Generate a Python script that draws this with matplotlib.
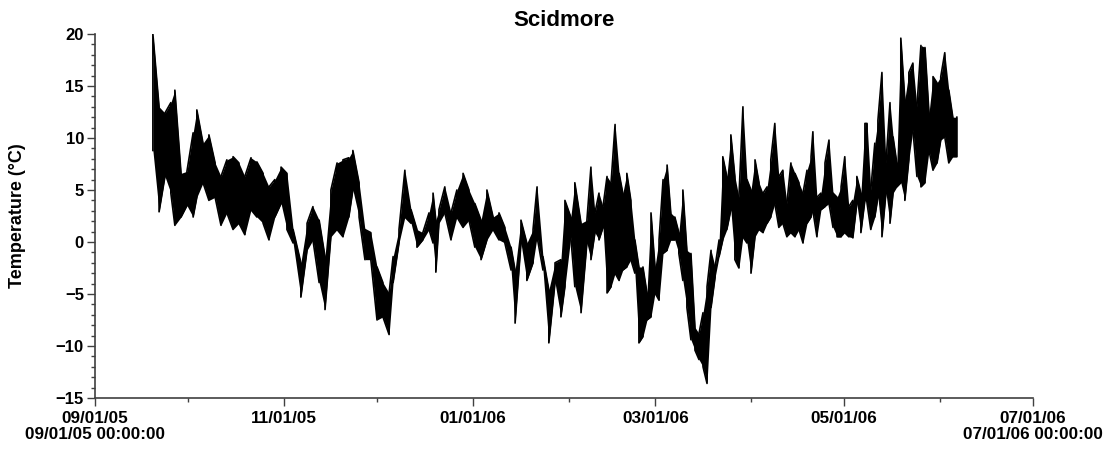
import datetime as dt
import matplotlib
matplotlib.use('Agg')
import matplotlib.pyplot as plt
import matplotlib.dates as mdates
from matplotlib.ticker import MultipleLocator

#-----------------------------------------------------------------------------#
# data: days since 09/01/05, daily-ish low / high envelope (deg C)

start = dt.datetime(2005, 9, 1)

days = [18.7, 20.7, 22.6, 24.5, 25.8, 27.8, 29.7, 31.7, 32.9, 34.9,
        36.8, 38.8, 40.7, 42.6, 44.6, 46.5, 48.4, 50.4, 52.3, 54.3,
        56.2, 58.1, 60.1, 62.0, 64.0, 66.5, 68.5, 70.4, 72.4, 74.3,
        76.2, 78.2, 80.1, 82.0, 83.3, 85.3, 87.2, 89.1, 91.1, 93.0,
        95.0, 96.3, 98.2, 100.1, 102.1, 104.0, 105.9, 107.9, 109.2, 110.1,
        111.1, 113.0, 115.0, 116.9, 118.9, 120.8, 122.7, 124.7, 126.6, 128.6,
        130.5, 132.4, 134.4, 135.7, 137.6, 139.5, 141.5, 142.8, 144.7, 146.6,
        148.6, 150.5, 151.8, 153.7, 155.0, 157.0, 158.9, 160.2, 161.5, 162.8,
        164.1, 165.4, 166.7, 168.0, 169.3, 170.5, 171.8, 173.1, 174.4, 175.7,
        177.0, 178.3, 179.6, 180.9, 182.2, 183.5, 184.8, 186.0, 187.3, 188.6,
        189.9, 191.2, 192.5, 193.8, 195.1, 196.4, 197.7, 199.0, 200.3, 201.6,
        202.8, 204.1, 205.4, 206.7, 208.0, 209.3, 210.6, 211.9, 213.2, 214.5,
        215.8, 217.1, 218.3, 219.6, 220.9, 222.2, 223.5, 224.8, 226.1, 227.4,
        228.7, 230.0, 231.3, 231.9, 233.2, 234.5, 235.8, 237.1, 238.4, 239.7,
        241.0, 242.2, 243.5, 244.8, 246.1, 247.4, 248.7, 249.4, 250.6, 251.9,
        252.9, 254.2, 255.5, 256.8, 257.8, 259.0, 260.3, 261.6, 262.9, 264.2,
        265.5, 266.8, 268.1, 269.4, 270.7, 272.0, 273.2, 274.5, 275.8, 277.1,
        278.4]

lows = [8.8, 2.9, 6.3, 4.7, 1.6, 2.4, 3.5, 2.4, 4.3, 5.7,
        4.0, 4.3, 1.6, 2.8, 1.2, 1.8, 0.7, 3.1, 2.4, 1.8,
        0.2, 2.4, 3.7, 1.2, -0.1, -5.3, -0.8, 0.2, -3.9, -6.5,
        0.5, 1.2, 0.5, 2.4, 5.0, 2.4, -1.7, -1.7, -7.5, -7.2,
        -8.9, -3.9, -0.1, 2.4, 1.8, -0.5, 0.2, 1.2, -0.1, -2.9,
        1.8, 2.8, 0.2, 2.4, 1.4, 2.1, -0.5, -1.7, 0.2, 1.2,
        0.2, -0.1, -2.7, -7.8, -0.1, -3.7, -2.0, 0.5, -2.7, -9.7,
        -3.9, -7.2, -4.3, 0.5, -4.3, -6.8, -0.1, -1.7, 0.9, 0.2,
        1.4, -4.9, -4.3, -3.0, -3.7, -2.7, -2.4, -1.7, -3.0, -9.7,
        -9.1, -7.5, -7.2, -4.9, -5.6, -1.1, -0.8, 0.2, 0.2, -1.1,
        -3.7, -6.3, -9.4, -10.4, -11.3, -12.0, -13.6, -6.3, -3.4, -1.4,
        0.2, 1.2, 3.1, -1.7, -2.5, 0.5, -0.1, -3.0, 0.5, 1.2,
        0.9, 1.8, 2.4, 3.7, 1.4, 1.8, 0.5, 0.9, 0.5, 1.2,
        -0.1, 1.8, 2.4, 3.0, 0.5, 3.1, 3.4, 3.7, 1.4, 0.5,
        0.5, 0.9, 0.5, 0.4, 3.7, 0.9, 4.0, 3.7, 1.2, 2.4,
        4.3, 0.5, 4.7, 1.8, 4.7, 5.3, 5.7, 4.0, 7.9, 10.8,
        6.3, 5.3, 5.7, 8.8, 6.9, 7.6, 9.8, 10.1, 7.6, 8.2,
        8.2]

highs = [20.0, 13.0, 12.4, 13.4, 14.6, 6.6, 6.8, 10.5, 12.7, 9.5,
         10.3, 7.6, 6.3, 7.9, 8.2, 7.6, 6.3, 8.1, 7.7, 6.6,
         5.3, 6.0, 7.2, 6.6, 1.2, -2.0, 1.8, 3.4, 2.1, -1.4,
         5.0, 7.6, 7.9, 8.1, 8.8, 5.7, 1.2, 0.9, -2.4, -3.9,
         -4.9, -1.4, 1.2, 6.9, 3.1, 1.2, 0.9, 2.8, 4.7, 2.1,
         3.1, 5.3, 2.8, 5.0, 6.6, 5.0, 3.7, 2.1, 5.0, 2.4,
         2.8, 1.4, -0.5, -2.7, 2.1, -0.1, 1.2, 5.3, -1.4, -4.6,
         -2.0, -1.7, 4.0, 2.4, 5.7, 1.8, 2.1, 7.2, 2.8, 4.7,
         3.4, 6.3, 5.7, 11.3, 6.6, 4.7, 6.6, 4.0, 0.2, -2.4,
         -2.4, -4.9, 2.8, -2.4, 0.2, 6.0, 7.4, 2.8, 2.4, 0.9,
         5.0, -0.8, -1.1, -8.2, -8.8, -6.8, -4.3, -0.8, -2.4, 0.2,
         8.2, 6.3, 10.3, 6.3, 4.3, 13.0, 6.0, 5.0, 7.9, 5.7,
         4.7, 5.3, 7.9, 11.4, 6.3, 6.9, 3.7, 7.6, 6.6, 5.7,
         4.7, 6.9, 8.2, 10.6, 4.3, 4.7, 7.6, 9.8, 4.7, 4.3,
         5.3, 8.2, 3.4, 4.0, 6.3, 4.7, 11.4, 11.4, 5.0, 9.5,
         11.7, 16.3, 7.6, 13.4, 10.1, 7.6, 19.6, 13.7, 16.3, 17.2,
         13.0, 18.9, 18.7, 12.4, 15.9, 15.3, 15.9, 18.2, 14.6, 12.0,
         12.0]

#-----------------------------------------------------------------------------#
# build a trace of vertical strokes (low <-> high) joined end to end

dates = [start + dt.timedelta(days=d) for d in days]
xs = []
ys = []
for i, t in enumerate(dates):
    if i % 2 == 0:
        pair = (lows[i], highs[i])
    else:
        pair = (highs[i], lows[i])
    xs += [t, t]
    ys += [pair[0], pair[1]]

#-----------------------------------------------------------------------------#
# plot

plt.rcParams['font.family'] = ['Liberation Sans', 'DejaVu Sans']

fig = plt.figure(figsize=(11.11, 4.53), dpi=100)
ax = fig.add_axes([0.0855, 0.1214, 0.8443, 0.8036])

ax.fill_between(dates, lows, highs, color='black', linewidth=0)
ax.plot(xs, ys, '-', color='black', linewidth=1.2)

ax.set_xlim(dt.datetime(2005, 9, 1), dt.datetime(2006, 7, 1))
ax.set_ylim(-15, 20)

ax.yaxis.set_major_locator(MultipleLocator(5))
ax.yaxis.set_minor_locator(MultipleLocator(1))
ax.xaxis.set_major_locator(mdates.MonthLocator(bymonth=[1, 3, 5, 7, 9, 11]))
ax.xaxis.set_minor_locator(mdates.MonthLocator(bymonth=[2, 4, 6, 8, 10, 12]))
ax.xaxis.set_major_formatter(mdates.DateFormatter('%m/%d/%y'))

for s in ['top', 'right']:
    ax.spines[s].set_visible(False)
for s in ['left', 'bottom']:
    ax.spines[s].set_color('#404040')
    ax.spines[s].set_linewidth(1.2)

ax.tick_params(axis='both', which='major', length=6, width=1, color='#404040')
ax.tick_params(axis='x', which='major', labelsize=12.3, pad=3)
ax.tick_params(axis='y', which='major', labelsize=12, pad=2)
ax.tick_params(axis='both', which='minor', length=3, width=1, color='#404040')
for lbl in ax.get_xticklabels() + ax.get_yticklabels():
    lbl.set_fontweight('bold')

# start / end stamps below the axis ends
ax.text(0.0, -0.08, '09/01/05 00:00:00', transform=ax.transAxes,
        ha='center', va='top', fontsize=12.3, fontweight='bold')
ax.text(1.0, -0.08, '07/01/06 00:00:00', transform=ax.transAxes,
        ha='center', va='top', fontsize=12.3, fontweight='bold')

ax.set_ylabel('Temperature (\u00b0C)', fontsize=13, fontweight='bold')
ax.yaxis.set_label_coords(-0.074, 0.5)
ax.set_title('Scidmore', fontsize=16, fontweight='bold', pad=6)

fig.savefig('out.png', dpi=100)
